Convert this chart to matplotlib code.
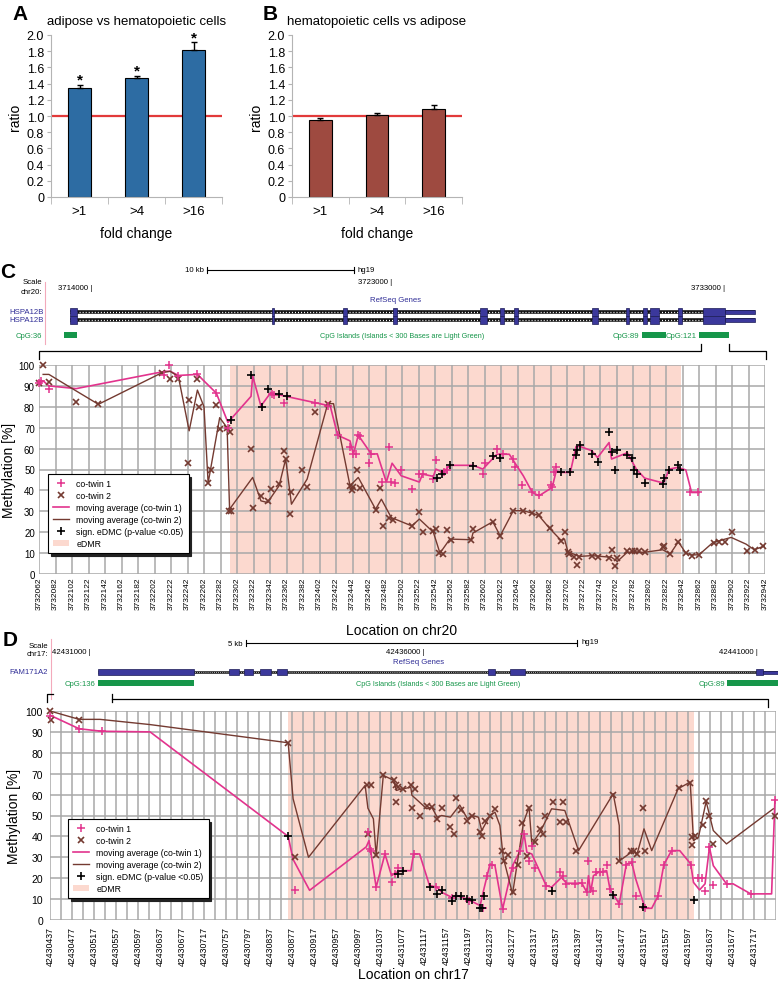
import matplotlib
matplotlib.use('Agg')
import matplotlib.pyplot as plt
from matplotlib.patches import Rectangle, Patch
from matplotlib.lines import Line2D
import numpy as np

plt.rcParams['font.family'] = ['Liberation Sans', 'DejaVu Sans']

W, H = 778, 987
fig = plt.figure(figsize=(W / 100, H / 100), dpi=100)

# ------------------------------------------------------------------ data
fold_labels = ['>1', '>4', '>16']
ratio_adipose = [1.34, 1.47, 1.81]
err_adipose = [0.04, 0.03, 0.10]
star_adipose = [True, True, True]
ratio_hema = [0.95, 1.01, 1.09]
err_hema = [0.03, 0.03, 0.05]
star_hema = [False, False, False]
ratio_ticks = [0, 0.2, 0.4, 0.6, 0.8, 1.0, 1.2, 1.4, 1.6, 1.8, 2.0]
ratio_tick_labels = ['0', '0.2', '0.4', '0.6', '0.8', '1.0', '1.2', '1.4', '1.6', '1.8', '2.0']

legend_labels = ['co-twin 1', 'co-twin 2', 'moving average (co-twin 1)',
                 'moving average (co-twin 2)', 'sign. eDMC (p-value <0.05)', 'eDMR']
meth_ticks = [0, 10, 20, 30, 40, 50, 60, 70, 80, 90, 100]

# ---- panel C (chr20)
c_start, c_end, c_label_step, c_grid_step = 3732062, 3732942, 20, 20
c_edmr = (3732293, 3732840)
c_x1 = [3732062, 3732065, 3732074, 3732213, 3732219, 3732230, 3732254, 3732277, 3732291, 3732344,
        3732347, 3732359, 3732397, 3732412, 3732424, 3732439, 3732443, 3732446, 3732449, 3732451,
        3732462, 3732465, 3732478, 3732486, 3732489, 3732493, 3732501, 3732514, 3732523, 3732527,
        3732540, 3732543, 3732553, 3732556, 3732600, 3732602, 3732617, 3732625, 3732637, 3732639,
        3732648, 3732660, 3732668, 3732682, 3732684, 3732686, 3732689, 3732851, 3732861]
c_y1 = [91.6, 92.2, 88.7, 95.0, 99.8, 94.5, 95.5, 86.5, 70.0, 86.0,
        85.5, 82.0, 82.0, 80.5, 66.4, 61.0, 57.3, 57.5, 66.4, 66.0,
        53.0, 57.3, 44.0, 61.0, 44.0, 43.5, 50.0, 40.6, 47.8, 47.8,
        45.4, 54.5, 49.0, 50.0, 48.0, 53.0, 59.7, 57.3, 55.0, 51.4,
        42.5, 39.0, 37.7, 42.5, 41.5, 48.6, 51.4, 39.0, 39.0]
c_x2 = [3732062, 3732067, 3732074, 3732107, 3732134, 3732211, 3732221, 3732230, 3732242, 3732244,
        3732254, 3732256, 3732267, 3732270, 3732276, 3732281, 3732290, 3732292, 3732293, 3732295,
        3732319, 3732321, 3732331, 3732339, 3732343, 3732353, 3732359, 3732361, 3732366, 3732368,
        3732381, 3732387, 3732397, 3732412, 3732439, 3732441, 3732443, 3732448, 3732451, 3732470,
        3732475, 3732479, 3732486, 3732491, 3732514, 3732523, 3732527, 3732540, 3732543, 3732547,
        3732552, 3732556, 3732561, 3732586, 3732588, 3732612, 3732621, 3732637, 3732649, 3732660,
        3732668, 3732681, 3732695, 3732700, 3732703, 3732705, 3732711, 3732714, 3732716, 3732732,
        3732739, 3732753, 3732756, 3732760, 3732763, 3732775, 3732781, 3732785, 3732789, 3732796,
        3732818, 3732820, 3732827, 3732837, 3732846, 3732853, 3732862, 3732880, 3732886, 3732894,
        3732902, 3732920, 3732930, 3732940]
c_y2 = [91.6, 100, 92, 82.3, 81.2, 96.3, 93.5, 93.5, 53.3, 83.3,
        93.5, 80, 43.5, 49.8, 80.7, 69.6, 70, 30.3, 68, 30.3,
        59.7, 31.8, 37.4, 35, 40.6, 43, 59, 55, 28.7, 39,
        50, 41.4, 77.7, 81.5, 42.2, 40, 41.4, 50, 41, 30.7,
        41, 22.8, 27, 26, 23, 29.5, 20, 20.5, 21.5, 10,
        9.8, 21, 16.4, 16.4, 21.5, 25, 18.3, 30.3, 30.3, 29,
        28, 21.8, 16, 20, 10.5, 9.5, 8, 4.3, 8.3, 8.5,
        8, 7.6, 11.6, 4, 7.5, 10.8, 11.2, 11.2, 11.2, 10.4,
        12.8, 13.3, 9.5, 15.4, 10, 8.8, 9.2, 15, 15.4, 15.4,
        20, 11, 11.6, 13.2]
c_xs = [3732295, 3732319, 3732332, 3732339, 3732353, 3732362, 3732545, 3732550, 3732560, 3732588,
        3732612, 3732621, 3732695, 3732706, 3732713, 3732714, 3732718, 3732732, 3732739, 3732753,
        3732756, 3732760, 3732763, 3732775, 3732781, 3732783, 3732787, 3732796, 3732818, 3732819,
        3732826, 3732836, 3732839]
c_ys = [73.7, 95.0, 80.0, 88.7, 86.3, 85.0, 45.9, 47.8, 52.0, 51.8,
        56.5, 55.7, 48.6, 48.6, 57.0, 59.4, 61.6, 57.6, 53.8, 68.0,
        58.4, 50.0, 59.4, 57.0, 55.4, 50.0, 47.8, 43.5, 43.3, 45.9,
        50.0, 52.0, 50.0]
c_ma1_x = [3732062, 3732067, 3732074, 3732107, 3732215, 3732221, 3732231, 3732254, 3732277, 3732291,
           3732319, 3732321, 3732331, 3732343, 3732359, 3732415, 3732424, 3732439, 3732443, 3732449,
           3732465, 3732472, 3732483, 3732490, 3732501, 3732523, 3732527, 3732540, 3732543, 3732552,
           3732560, 3732588, 3732600, 3732617, 3732632, 3732649, 3732660, 3732668, 3732684, 3732689,
           3732695, 3732706, 3732713, 3732718, 3732732, 3732739, 3732753, 3732756, 3732775, 3732786,
           3732796, 3732819, 3732826, 3732836, 3732846, 3732853, 3732862]
c_ma1_y = [91.6, 92.4, 90, 88.7, 97, 97, 95, 95.5, 86.5, 72.5,
           85, 94.7, 80.4, 86.8, 85.2, 80.4, 66.4, 63.7, 57.3, 66.4,
           57.3, 57.5, 44, 53, 47, 44, 47.8, 46.7, 50.2, 48.6,
           52, 52, 50.2, 57.3, 57.3, 47, 39, 37.4, 41.4, 49.4,
           48.6, 48.6, 61, 61, 59, 55.7, 62.9, 55, 58, 50.2,
           45.9, 43.5, 50.2, 51, 49.8, 39, 39]
c_ma2_x = [3732067, 3732074, 3732107, 3732134, 3732211, 3732221, 3732231, 3732244, 3732254, 3732262,
           3732267, 3732281, 3732290, 3732293, 3732321, 3732331, 3732339, 3732353, 3732361, 3732368,
           3732387, 3732412, 3732419, 3732439, 3732449, 3732470, 3732477, 3732489, 3732514, 3732523,
           3732540, 3732548, 3732560, 3732586, 3732588, 3732612, 3732621, 3732637, 3732649, 3732660,
           3732668, 3732681, 3732695, 3732699, 3732703, 3732717, 3732732, 3732756, 3732763, 3732775,
           3732796, 3732818, 3732827, 3732837, 3732846, 3732853, 3732862, 3732879, 3732901, 3732919,
           3732929, 3732942]
c_ma2_y = [95.5, 95.5, 87.6, 81.2, 96.3, 97, 94.4, 68.5, 88, 80,
           43.5, 74.8, 70, 31, 46.2, 35, 34.2, 42.2, 55, 33.4,
           45.4, 81.5, 81.5, 42.2, 46.2, 31, 35.8, 27, 23, 26.3,
           20, 10, 16.7, 16.4, 19.6, 25, 18.3, 30.3, 30.3, 29.1,
           27.9, 21.8, 16, 16.7, 10.7, 8.4, 8.8, 8, 6, 10.4,
           10.4, 11.6, 9.6, 15.4, 10, 9.1, 9.2, 15.1, 17.5, 14.3,
           11.6, 13.5]

# ---- panel D (chr17)
d_start, d_end, d_label_end, d_label_step, d_grid_step = 42430437, 42431757, 42431717, 40, 20
d_edmr = (42430870, 42431608)
d_x1 = [42430437, 42430490, 42430531, 42430882, 42431016, 42431018, 42431020, 42431030, 42431046, 42431058,
        42431064, 42431069, 42431098, 42431139, 42431167, 42431199, 42431225, 42431232, 42431240, 42431260,
        42431278, 42431292, 42431299, 42431308, 42431313, 42431319, 42431339, 42431364, 42431370, 42431376,
        42431392, 42431404, 42431413, 42431416, 42431424, 42431430, 42431437, 42431442, 42431449, 42431455,
        42431472, 42431485, 42431495, 42431502, 42431519, 42431543, 42431553, 42431567, 42431602, 42431616,
        42431622, 42431628, 42431636, 42431643, 42431667, 42431711, 42431755]
d_y1 = [97.5, 91.5, 90.3, 14.2, 42, 34, 33, 15.7, 31.6, 18,
        22, 24.8, 31.6, 15.7, 10.4, 9.3, 5.6, 21, 26.4, 5.3,
        24.8, 33.2, 41.2, 28.4, 35.6, 24.8, 16.5, 22.8, 21.2, 17.3,
        17.3, 17.6, 13.3, 28.4, 14, 22.8, 22.8, 22.8, 26.4, 14.9,
        7.7, 26.4, 27.6, 11.7, 5.6, 11.7, 26.4, 33.2, 26.4, 20,
        20, 14, 34.8, 16.8, 17.3, 12.5, 57.2]
d_x2 = [42430437, 42430438, 42430490, 42430870, 42430882, 42431013, 42431016, 42431020, 42431030, 42431043,
        42431062, 42431066, 42431066, 42431070, 42431078, 42431093, 42431095, 42431101, 42431109, 42431123,
        42431131, 42431141, 42431149, 42431165, 42431172, 42431175, 42431185, 42431196, 42431204, 42431219,
        42431222, 42431228, 42431237, 42431246, 42431258, 42431262, 42431270, 42431278, 42431287, 42431296,
        42431304, 42431308, 42431319, 42431328, 42431333, 42431337, 42431351, 42431364, 42431369, 42431376,
        42431393, 42431461, 42431472, 42431493, 42431498, 42431504, 42431516, 42431519, 42431581, 42431601,
        42431604, 42431605, 42431610, 42431625, 42431630, 42431636, 42431643, 42431755]
d_y2 = [100, 95.5, 95.8, 84.8, 30, 64.4, 41.2, 64.4, 31, 69.5,
        66.8, 64.4, 56.4, 63.6, 62.8, 64.4, 53.5, 62.8, 50, 54.5,
        54, 48.4, 53.5, 44.4, 41.2, 58.3, 52.4, 47.6, 49.7, 42,
        40, 47.6, 50, 53.2, 33.2, 28.4, 31.2, 13.3, 26.4, 46.5,
        30.8, 53.5, 37.5, 43.6, 41.2, 50, 56.4, 46.8, 56.4, 46.8,
        33.2, 60, 28.4, 33.2, 33.2, 31.6, 53.5, 33.2, 63.1, 65.5,
        36, 39.6, 40.4, 45.5, 56.7, 50, 36.4, 50]
d_xs = [42430870, 42431069, 42431078, 42431127, 42431141, 42431149, 42431167, 42431175, 42431185, 42431196,
        42431204, 42431219, 42431222, 42431226, 42431349, 42431461, 42431516, 42431607]
d_ys = [40, 22, 23.6, 16, 12.5, 14.4, 9.3, 11.7, 11.7, 10,
        9.6, 5.6, 5.6, 11.7, 14, 12.1, 6.1, 9.7]
d_ma1_x = [42430437, 42430490, 42430531, 42430619, 42430870, 42430879, 42430909, 42431012, 42431017, 42431020,
           42431030, 42431046, 42431058, 42431066, 42431078, 42431093, 42431098, 42431109, 42431127, 42431141,
           42431149, 42431167, 42431175, 42431196, 42431219, 42431226, 42431237, 42431246, 42431260, 42431278,
           42431292, 42431299, 42431304, 42431313, 42431339, 42431349, 42431367, 42431376, 42431404, 42431413,
           42431416, 42431420, 42431425, 42431434, 42431449, 42431455, 42431472, 42431485, 42431495, 42431502,
           42431519, 42431531, 42431543, 42431553, 42431567, 42431582, 42431602, 42431607, 42431618, 42431628,
           42431636, 42431643, 42431667, 42431679, 42431711, 42431749, 42431755]
d_ma1_y = [98, 91.5, 90.3, 90, 40, 29, 14.2, 35, 38, 33,
           15.7, 31.6, 21.2, 22.8, 23.6, 23.6, 31.6, 31.6, 16.5, 15.7,
           13.3, 10.9, 11.7, 10, 6.9, 14.9, 26.8, 26, 5.3, 26,
           33.2, 41.2, 32.4, 31.6, 16.5, 15.7, 20.4, 17.6, 17.6, 13.3,
           21.2, 13.3, 21.2, 22.8, 23.6, 14.9, 7.7, 26.8, 27.3, 19.6,
           5.6, 5.6, 11.7, 26.4, 33.2, 33.2, 26.8, 18, 14.4, 17.3,
           34.8, 26, 17.3, 17.3, 12.5, 12.5, 57.2]
d_ma2_x = [42430437, 42430490, 42430528, 42430619, 42430870, 42430879, 42430907, 42431010, 42431015, 42431025,
           42431030, 42431043, 42431062, 42431067, 42431073, 42431093, 42431095, 42431122, 42431131, 42431141,
           42431149, 42431165, 42431182, 42431196, 42431204, 42431216, 42431222, 42431237, 42431246, 42431255,
           42431261, 42431278, 42431298, 42431308, 42431313, 42431328, 42431349, 42431373, 42431398, 42431461,
           42431472, 42431473, 42431498, 42431504, 42431517, 42431531, 42431579, 42431601, 42431607, 42431616,
           42431630, 42431643, 42431667, 42431752]
d_ma2_y = [100, 96, 96, 93.5, 84.8, 58, 30, 64.4, 53.5, 48.4,
           30.8, 69.2, 66.8, 62, 62.5, 63.5, 59.7, 53.2, 54, 49.2,
           50, 49.2, 55, 48.4, 50, 49.2, 42.8, 50, 51.6, 45.2,
           30, 12.5, 46.8, 54, 36.4, 42, 53.2, 52.4, 33.2, 60.4,
           45.2, 28.4, 33.2, 31.2, 43.6, 33.2, 62.8, 66, 38, 39.6,
           56.7, 42.8, 36.4, 53.2]

# ---- genome browser tracks (genomic coordinates)
c_track_ticks = [3714000, 3723000, 3733000]
c_gene_name = 'HSPA12B'
c_gene_span = (3713340, 3732990)
c_exons = [(3713340, 3713550), (3719400, 3719460), (3721530, 3721650), (3723030, 3723150),
           (3725640, 3725850), (3726240, 3726360), (3726660, 3726780), (3729000, 3729180),
           (3730020, 3730110), (3730530, 3730650), (3730740, 3731010), (3731580, 3731700),
           (3732330, 3732990)]
c_utr = (3732990, 3733890)
c_cpg_names = ['CpG:36', 'CpG:89', 'CpG:121']
c_cpg = [(3713160, 3713550), (3730500, 3731220), (3732210, 3733110)]

d_track_ticks = [42431000, 42436000, 42441000]
d_gene_name = 'FAM171A2'
d_gene_span = (42431105, 42441080)
d_exons = [(42431105, 42432545), (42433070, 42433220), (42433295, 42433430), (42433535, 42433700),
           (42433790, 42433940), (42436955, 42437060), (42437285, 42437510), (42440975, 42441080)]
d_utr = (42441080, 42441300)
d_cpg_names = ['CpG:136', 'CpG:89']
d_cpg = [(42431105, 42432545), (42440540, 42441300)]

# ------------------------------------------------------------------ style
PINK = '#e2338d'
BROWN = '#743a31'
SHADE = '#fcd9cf'
GRID = '#a8a8a8'
SPINE = '#b4b4b4'
NAVY = '#2f2d96'
GREEN = '#16964a'


def add_axes_px(left, top, right, bottom, **kw):
    return fig.add_axes([left / W, 1 - bottom / H, (right - left) / W, (bottom - top) / H], **kw)


# overlay in pixel coordinates for annotations
ov = fig.add_axes([0, 0, 1, 1], facecolor='none')
ov.set_xlim(0, W)
ov.set_ylim(H, 0)
ov.axis('off')


def bar_panel(box, vals, errs, stars, color, title, letter, letter_x):
    ax = add_axes_px(*box)
    x = np.arange(len(vals))
    ax.axhline(1.0, color='#e23a3a', lw=1.6, zorder=1)
    ax.bar(x, vals, width=0.4, color=color, edgecolor='black', linewidth=0.8, zorder=2)
    ax.errorbar(x, vals, yerr=[np.zeros(len(vals)), errs], fmt='none', ecolor='black',
                elinewidth=1.0, capsize=2, capthick=1.0, zorder=3)
    for xi, v, e, s in zip(x, vals, errs, stars):
        if s:
            ax.text(xi, v + e + 0.065, '*', ha='center', va='center', fontsize=11, fontweight='bold')
    ax.set_xlim(-0.5, len(vals) - 0.5)
    ax.set_ylim(0, 2.0)
    ax.set_yticks(ratio_ticks)
    ax.set_yticklabels(ratio_tick_labels)
    ax.set_xticks(x)
    ax.set_xticklabels(fold_labels)
    ax.set_xticks(np.arange(-0.5, len(vals)), minor=True)
    ax.tick_params(axis='x', which='major', length=0, pad=6, labelsize=9.5)
    ax.tick_params(axis='x', which='minor', length=5, color=SPINE)
    ax.tick_params(axis='y', length=3, color=SPINE, labelsize=9, pad=2)
    for s in ['top', 'right']:
        ax.spines[s].set_visible(False)
    for s in ['left', 'bottom']:
        ax.spines[s].set_color(SPINE)
    ax.set_ylabel('ratio', fontsize=10)
    ax.yaxis.set_label_coords(-0.17, 0.5)
    ax.set_xlabel('fold change', fontsize=10)
    ax.xaxis.set_label_coords(0.5, -0.18)
    cx = (box[0] + box[2]) / 2
    ov.text(cx, 22, title, ha='center', va='center', fontsize=9.5)
    ov.text(letter_x, 15, letter, ha='center', va='center', fontsize=15, fontweight='bold')
    return ax


bar_panel((51, 36, 222, 198), ratio_adipose, err_adipose, star_adipose, '#2d6ca3',
          'adipose vs hematopoietic cells', 'A', 20)
bar_panel((292, 36, 462, 198), ratio_hema, err_hema, star_hema, '#9e4a40',
          'hematopoietic cells vs adipose', 'B', 270)


def meth_panel(box, xlim, label_end, label_step, grid_step, edmr, x1, y1, x2, y2,
               ma1x, ma1y, ma2x, ma2y, xs, ys, chrom, leg_anchor, ylab_x, xlab_y,
               xtick_fs, ytick_fs, xpad, ypad):
    ax = add_axes_px(*box)
    ax.axvspan(edmr[0], edmr[1], color=SHADE, lw=0, zorder=0)
    ax.set_xlim(*xlim)
    ax.set_ylim(0, 100)
    major = np.arange(xlim[0], label_end + 1, label_step)
    ax.set_xticks(major)
    ax.set_xticklabels([str(v) for v in major], rotation=90, fontsize=xtick_fs)
    ax.set_xticks(np.arange(xlim[0], xlim[1] + 1, grid_step), minor=True)
    ax.set_yticks(meth_ticks)
    ax.set_yticklabels([str(v) for v in meth_ticks], fontsize=ytick_fs)
    ax.grid(True, which='both', axis='x', color=GRID, lw=1.1)
    ax.grid(True, which='major', axis='y', color=GRID, lw=1.1)
    ax.set_axisbelow(True)
    ax.tick_params(axis='x', which='both', length=0, pad=xpad)
    ax.tick_params(axis='y', length=0, pad=ypad)
    for s in ax.spines.values():
        s.set_visible(False)
    ax.plot(ma1x, ma1y, color=PINK, lw=1.2, zorder=2)
    ax.plot(ma2x, ma2y, color=BROWN, lw=1.0, zorder=2)
    ax.plot(x2, y2, ls='none', marker='x', color=BROWN, ms=4.2, mew=1.2, zorder=3, clip_on=False)
    ax.plot(x1, y1, ls='none', marker='+', color=PINK, ms=6, mew=1.1, zorder=3, clip_on=False)
    ax.plot(xs, ys, ls='none', marker='+', color='black', ms=6, mew=1.2, zorder=4, clip_on=False)
    handles = [Line2D([], [], ls='none', marker='+', color=PINK, ms=6, mew=1.1),
               Line2D([], [], ls='none', marker='x', color=BROWN, ms=4.2, mew=1.2),
               Line2D([], [], color=PINK, lw=1.2),
               Line2D([], [], color=BROWN, lw=1.0),
               Line2D([], [], ls='none', marker='+', color='black', ms=6, mew=1.2),
               Patch(facecolor=SHADE, edgecolor='none')]
    leg = ax.legend(handles, legend_labels, loc='upper left', bbox_to_anchor=leg_anchor,
                    borderaxespad=0, fontsize=6.3, frameon=True, fancybox=False,
                    edgecolor='black', framealpha=1, borderpad=0.55, labelspacing=0.35,
                    handlelength=1.9, handletextpad=0.8,
                    shadow={'color': '#222222', 'alpha': 1})
    leg.get_frame().set_linewidth(0.8)
    ax.set_ylabel('Methylation [%]', fontsize=10)
    ax.yaxis.set_label_coords(ylab_x, 0.5)
    ax.set_xlabel('Location on ' + chrom, fontsize=10)
    ax.xaxis.set_label_coords(0.5, xlab_y)
    return ax


meth_panel((39, 366, 765, 575), (c_start, c_end), c_end, c_label_step, c_grid_step, c_edmr,
           c_x1, c_y1, c_x2, c_y2, c_ma1_x, c_ma1_y, c_ma2_x, c_ma2_y, c_xs, c_ys, 'chr20',
           (0.0124, 0.4785), -0.032, -0.235, 6.0, 7.0, 2, 3)
meth_panel((50, 712, 776, 921), (d_start, d_end), d_label_end, d_label_step, d_grid_step, d_edmr,
           d_x1, d_y1, d_x2, d_y2, d_ma1_x, d_ma1_y, d_ma2_x, d_ma2_y, d_xs, d_ys, 'chr17',
           (0.0248, 0.4833), -0.040, -0.225, 6.3, 7.5, 4, 5)


# ------------------------------------------------------------------ genome tracks
def track_axes(ref_pos, ref_px, bp_per_px):
    t = fig.add_axes([0, 0, 1, 1], facecolor='none')
    t.set_xlim(ref_pos - ref_px * bp_per_px, ref_pos + (W - ref_px) * bp_per_px)
    t.set_ylim(H, 0)
    t.axis('off')
    return t


def draw_gene(t, span, exons, utr, y, h, lw_line, bpx):
    t.plot([span[0], utr[1]], [y, y], color='#111111', lw=lw_line, solid_capstyle='butt', zorder=1)
    t.plot([span[0], utr[0]], [y, y], color='white', lw=lw_line * 0.35,
           dashes=(0.8, 1.6), zorder=2)
    for s, e in exons:
        t.add_patch(Rectangle((s, y - h / 2), max(e - s, 2 * bpx), h, facecolor='#3b389c',
                              edgecolor='#1b1b55', lw=0.5, zorder=3))
    t.add_patch(Rectangle((utr[0], y - h / 4), utr[1] - utr[0], h / 2, facecolor='#3b389c',
                          edgecolor='#1b1b55', lw=0.5, zorder=3))


FS_T = 5.6
# ---- C track
tc = track_axes(3714000, 92, 30)
ov.text(8, 273, 'C', ha='center', va='center', fontsize=15, fontweight='bold')
ov.text(42, 282, 'Scale', ha='right', va='center', fontsize=FS_T)
ov.text(42, 293, 'chr20:', ha='right', va='center', fontsize=FS_T)
ov.plot([45, 45], [283, 345], color='#f3aabb', lw=0.8)
ov.plot([207, 354], [271, 271], color='black', lw=0.8)
ov.plot([207, 207], [268, 274], color='black', lw=0.8)
ov.plot([354, 354], [268, 274], color='black', lw=0.8)
ov.text(204, 270, '10 kb', ha='right', va='center', fontsize=FS_T)
ov.text(358, 270, 'hg19', ha='left', va='center', fontsize=FS_T)
for pos, yy in zip(c_track_ticks, [289, 283, 289]):
    tc.text(pos, yy, str(pos) + ' |', ha='right', va='center', fontsize=FS_T)
ov.text(396, 300, 'RefSeq Genes', ha='center', va='center', fontsize=FS_T, color=NAVY)
for yy in [313, 321]:
    ov.text(44, yy, c_gene_name, ha='right', va='center', fontsize=FS_T, color=NAVY)
    draw_gene(tc, c_gene_span, c_exons, c_utr, yy, 8, 2.6, 30)
for (s, e), nm, lx in zip(c_cpg, c_cpg_names, [42, 639, 697]):
    tc.add_patch(Rectangle((s, 333), e - s, 6, facecolor=GREEN, edgecolor='none'))
    ov.text(lx, 336, nm, ha='right', va='center', fontsize=FS_T, color=GREEN)
ov.text(402, 336, 'CpG Islands (Islands < 300 Bases are Light Green)', ha='center',
        va='center', fontsize=5.2, color=GREEN)
ov.plot([39, 39, 701, 701], [360, 352, 352, 345], color='black', lw=0.9)
ov.plot([729, 729, 766, 766], [345, 352, 352, 360], color='black', lw=0.9)

# ---- D track
td = track_axes(42431000, 91, 15)
ov.text(10, 641, 'D', ha='center', va='center', fontsize=15, fontweight='bold')
ov.text(48, 647, 'Scale', ha='right', va='center', fontsize=FS_T)
ov.text(48, 655, 'chr17:', ha='right', va='center', fontsize=FS_T)
ov.plot([51, 51], [640, 700], color='#f3aabb', lw=0.8)
ov.plot([246, 577], [644, 644], color='black', lw=0.8)
ov.plot([246, 246], [641, 647], color='black', lw=0.8)
ov.plot([577, 577], [641, 647], color='black', lw=0.8)
ov.text(243, 644, '5 kb', ha='right', va='center', fontsize=FS_T)
ov.text(582, 643, 'hg19', ha='left', va='center', fontsize=FS_T)
for pos in d_track_ticks:
    td.text(pos, 652, str(pos) + ' |', ha='right', va='center', fontsize=FS_T)
ov.text(419, 663, 'RefSeq Genes', ha='center', va='center', fontsize=FS_T, color=NAVY)
ov.text(48, 673, d_gene_name, ha='right', va='center', fontsize=FS_T, color=NAVY)
draw_gene(td, d_gene_span, d_exons, d_utr, 673, 6, 1.8, 15)
for (s, e), nm, lx in zip(d_cpg, d_cpg_names, [95, 725]):
    td.add_patch(Rectangle((s, 681), e - s, 6, facecolor=GREEN, edgecolor='none'))
    ov.text(lx, 684, nm, ha='right', va='center', fontsize=FS_T, color=GREEN)
ov.text(438, 684, 'CpG Islands (Islands < 300 Bases are Light Green)', ha='center',
        va='center', fontsize=5.2, color=GREEN)
ov.plot([47, 47, 53], [703, 695, 695], color='black', lw=0.9)
ov.plot([112, 112], [695, 703], color='black', lw=0.9)
ov.plot([112, 768, 768], [700, 700, 708], color='black', lw=0.9)

fig.savefig('out.png', dpi=100)
